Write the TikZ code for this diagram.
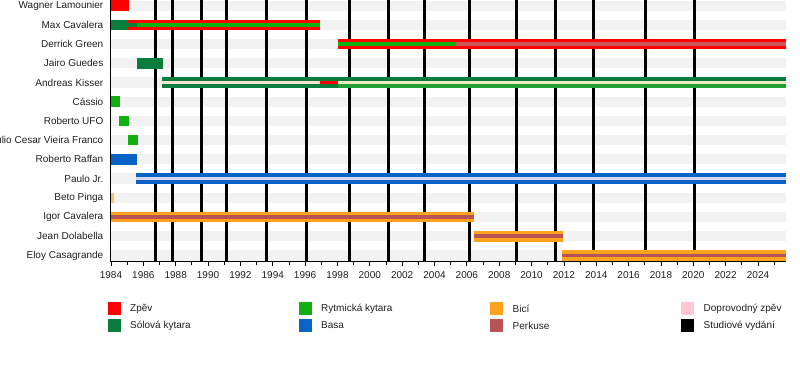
\documentclass[tikz,border=0pt]{standalone}
\usepackage{fontspec}
\setmainfont{Liberation Sans}
\definecolor{cVoc}{HTML}{FF0000}
\definecolor{cLead}{HTML}{0A7D3C}
\definecolor{cRhy}{HTML}{11B011}
\definecolor{cBass}{HTML}{0A64C8}
\definecolor{cDrum}{HTML}{FFA31F}
\definecolor{cPerc}{HTML}{B85456}
\definecolor{cBack}{HTML}{FFC8D0}
\definecolor{cBand}{HTML}{F2F2F2}
\definecolor{cBeige}{HTML}{F2E4CC}
\definecolor{cPale}{HTML}{EEEAC4}
\definecolor{cLav}{HTML}{D8D8EE}
\definecolor{cDPerc}{HTML}{CC5555}
\definecolor{cRhyB}{HTML}{22A032}
\definecolor{cBeto}{HTML}{F5C070}
\newcommand\tlfull[4]{\fill[#4] ({X(#2)},{Y(#1)-5.3}) rectangle ({X(#3)},{Y(#1)+5.3});}
\newcommand\tlmid[4]{\fill[#4] ({X(#2)},{Y(#1)-1.9}) rectangle ({X(#3)},{Y(#1)+1.9});}
\newcommand\tllow[4]{\fill[#4] ({X(#2)},{Y(#1)+1.9}) rectangle ({X(#3)},{Y(#1)+5.3});}
\begin{document}
\begin{tikzpicture}[x=1pt,y=-1pt,
  declare function={X(\t)=111+(\t-1984)*16.175; Y(\r)=5.6+19.22*\r;},
  txt/.style={font=\fontsize{10}{12}\selectfont, text=black!88, inner sep=0pt},
  namelbl/.style={txt, anchor=east},
  yearlbl/.style={txt, anchor=center},
  leglbl/.style={txt, anchor=west},
  release/.style={line width=2.6pt, black},
  axisline/.style={line width=0.9pt, black},
  legsq/.style={minimum width=13pt, minimum height=13pt, inner sep=0pt, draw=none}]
\useasboundingbox (0,0) rectangle (800,380);
\def\tend{2025.73}
% row bands
\foreach \r in {0,...,13} {\fill[cBand] (111,{Y(\r)-5.1}) rectangle (786,{Y(\r)+5.1});}
% studio releases
\foreach \t in {1986.76,1987.79,1989.61,1991.15,1993.63,1996.10,1998.73,2001.14,2003.37,2006.15,2009.06,2011.47,2013.82,2017.06,2020.09}
  {\draw[release] ({X(\t)},0) -- ({X(\t)},261.5);}
% bars
\tlfull{0}{1984}{1985.1}{cVoc}
\tlfull{1}{1984}{1985.07}{cLead}
\tlfull{1}{1985.07}{1996.92}{cVoc}
\tlmid{1}{1985.07}{1985.6}{cLead}
\tlmid{1}{1985.6}{1996.92}{cRhy}
\tlfull{2}{1998.03}{\tend}{cVoc}
\tlmid{2}{1998.03}{2005.3}{cRhy}
\tlmid{2}{2005.3}{\tend}{cDPerc}
\tlfull{3}{1985.6}{1987.2}{cLead}
\tlfull{4}{1987.15}{\tend}{cLead}
\tlmid{4}{1987.15}{1996.92}{cBeige}
\tlmid{4}{1996.92}{1998.03}{cVoc}
\tlmid{4}{1998.03}{\tend}{cPale}
\tllow{4}{1998.03}{\tend}{cRhyB}
\tlfull{5}{1984}{1984.56}{cRhy}
\tlfull{6}{1984.5}{1985.1}{cRhy}
\tlfull{7}{1985.05}{1985.67}{cRhy}
\tlfull{8}{1984}{1985.6}{cBass}
\tlfull{9}{1985.55}{\tend}{cBass}
\tlmid{9}{1985.55}{\tend}{cLav}
\tlfull{10}{1984.03}{1984.17}{cBeto}
\tlfull{11}{1984}{2006.45}{cDrum}
\tlmid{11}{1984}{2006.45}{cPerc}
\tlfull{12}{2006.45}{2011.95}{cDrum}
\tlmid{12}{2006.45}{2011.95}{cPerc}
\tlfull{13}{2011.9}{\tend}{cDrum}
\tlmid{13}{2011.9}{\tend}{cPerc}
% axes
\draw[axisline] (110.5,0) -- (110.5,261.5);
\draw[axisline] (110.5,261.5) -- (786,261.5);
\foreach \k in {0,...,41} {\draw[line width=0.8pt] ({X(1984+\k)},261.5) -- ({X(1984+\k)},264.5);}
\foreach \k in {0,...,20} {\draw[line width=0.8pt] ({X(1984+2*\k)},261.5) -- ({X(1984+2*\k)},266);
  \pgfmathtruncatemacro\yy{1984+2*\k}
  \node[yearlbl] (y\k) at ({X(\yy)},275) {\yy};}
% names
\foreach \r/\n in {0/Wagner Lamounier,1/Max Cavalera,2/Derrick Green,3/Jairo Guedes,4/Andreas Kisser,5/Cássio,6/Roberto UFO,7/Julio Cesar Vieira Franco,8/Roberto Raffan,9/Paulo Jr.,10/Beto Pinga,11/Igor Cavalera,12/Jean Dolabella,13/Eloy Casagrande}
  {\node[namelbl] (n\r) at (103.5,{Y(\r)}) {\n};}
% legend
\node[legsq, fill=cVoc] (s1) at (114.5,308.5) {};
\node[leglbl] (l1) at (130,308.5) {Zpěv};
\node[legsq, fill=cLead] (s2) at (114.5,325.5) {};
\node[leglbl] (l2) at (130,325.5) {Sólová kytara};
\node[legsq, fill=cRhy] (s3) at (305.5,308.5) {};
\node[leglbl] (l3) at (321,308.5) {Rytmická kytara};
\node[legsq, fill=cBass] (s4) at (305.5,325.5) {};
\node[leglbl] (l4) at (321,325.5) {Basa};
\node[legsq, fill=cDrum] (s5) at (496.5,308.5) {};
\node[leglbl] (l5) at (512.5,308.5) {Bicí};
\node[legsq, fill=cPerc] (s6) at (496.5,325.5) {};
\node[leglbl] (l6) at (512.5,325.5) {Perkuse};
\node[legsq, fill=cBack] (s7) at (687.5,308.5) {};
\node[leglbl] (l7) at (703.5,308.5) {Doprovodný zpěv};
\node[legsq, fill=black] (s8) at (687.5,325.5) {};
\node[leglbl] (l8) at (703.5,325.5) {Studiové vydání};
\end{tikzpicture}
\end{document}
